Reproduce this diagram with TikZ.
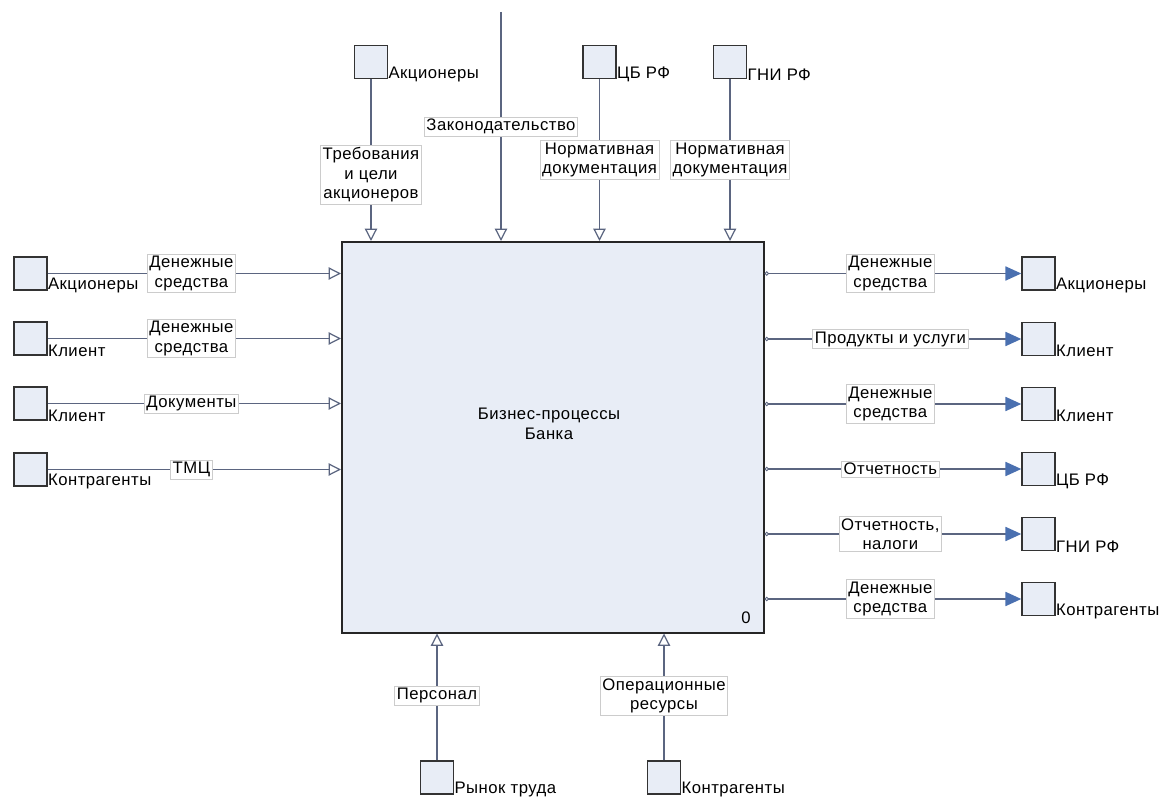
\documentclass[tikz,border=0pt]{standalone}
\usepackage{fontspec}
\setmainfont[LetterSpace=3]{Liberation Sans}
\usetikzlibrary{arrows.meta}
\definecolor{boxfill}{HTML}{E8EDF6}
\definecolor{linec}{HTML}{5B6580}
\definecolor{arrowc}{HTML}{4A70B0}
\begin{document}
\begin{tikzpicture}[x=0.02cm,y=-0.02cm,
  font=\fontsize{9.5}{11}\selectfont,
  ext/.style={draw=black!80, fill=boxfill, minimum size=0.66cm, inner sep=0pt, line width=0.8pt},
  mainbox/.style={draw=black!85, fill=boxfill, minimum width=8.44cm, minimum height=7.82cm, inner sep=0pt, line width=0.9pt},
  lbl/.style={draw=black!20, fill=white, inner sep=1.2pt, align=center, line width=0.4pt},
  ename/.style={anchor=west, inner sep=0pt, yshift=2.8pt},
  flow/.style={draw=linec, line width=0.9pt},
  inarr/.style={flow, -{Triangle[open, length=7pt, width=7pt, line width=0.7pt]}},
  outarr/.style={flow, {Circle[open, length=2.5pt, width=2.5pt, line width=0.5pt]}-{Triangle[length=9pt, width=8pt, color=arrowc, fill=arrowc]}}
]
\useasboundingbox (0,0) rectangle (1164,800);

% main function box
\node[mainbox, anchor=north west] (main) at (341,241) {};
\node[align=center] (maintext) at (549,424) {Бизнес-процессы\\Банка};
\node (num) at (746,618) {0};

% left inputs
\node[ext] (la) at (30.5,273.5) {};
\node[ext] (lk1) at (30.5,338.5) {};
\node[ext] (lk2) at (30.5,403.5) {};
\node[ext] (lc) at (30.5,469.5) {};
\node[ename] (lat) at (la.south east) {Акционеры};
\node[ename] (lk1t) at (lk1.south east) {Клиент};
\node[ename] (lk2t) at (lk2.south east) {Клиент};
\node[ename] (lct) at (lc.south east) {Контрагенты};
\draw[inarr] (la.east) -- node[lbl, pos=0.49] (l1) {Денежные\\средства} (la.east -| main.west);
\draw[inarr] (lk1.east) -- node[lbl, pos=0.49] (l2) {Денежные\\средства} (lk1.east -| main.west);
\draw[inarr] (lk2.east) -- node[lbl, pos=0.49] (l3) {Документы} (lk2.east -| main.west);
\draw[inarr] (lc.east) -- node[lbl, pos=0.49] (l4) {ТМЦ} (lc.east -| main.west);

% right outputs
\node[ext] (ra) at (1038.5,273.5) {};
\node[ext] (rk1) at (1038.5,339) {};
\node[ext] (rk2) at (1038.5,404) {};
\node[ext] (rcb) at (1038.5,469) {};
\node[ext] (rgni) at (1038.5,534) {};
\node[ext] (rc) at (1038.5,599) {};
\node[ename] (rat) at (ra.south east) {Акционеры};
\node[ename] (rk1t) at (rk1.south east) {Клиент};
\node[ename] (rk2t) at (rk2.south east) {Клиент};
\node[ename] (rcbt) at (rcb.south east) {ЦБ РФ};
\node[ename] (rgnit) at (rgni.south east) {ГНИ РФ};
\node[ename] (rct) at (rc.south east) {Контрагенты};
\draw[outarr] (ra.west -| main.east) -- node[lbl, pos=0.49] (r1) {Денежные\\средства} (ra.west);
\draw[outarr] (rk1.west -| main.east) -- node[lbl, pos=0.49] (r2) {Продукты и услуги} (rk1.west);
\draw[outarr] (rk2.west -| main.east) -- node[lbl, pos=0.49] (r3) {Денежные\\средства} (rk2.west);
\draw[outarr] (rcb.west -| main.east) -- node[lbl, pos=0.49] (r4) {Отчетность} (rcb.west);
\draw[outarr] (rgni.west -| main.east) -- node[lbl, pos=0.49] (r5) {Отчетность,\\налоги} (rgni.west);
\draw[outarr] (rc.west -| main.east) -- node[lbl, pos=0.49] (r6) {Денежные\\средства} (rc.west);

% top controls
\node[ext] (ta) at (371,62) {};
\node[ext] (tcb) at (599.5,62) {};
\node[ext] (tgni) at (730,62) {};
\node[ename] (tat) at (ta.south east) {Акционеры};
\node[ename] (tcbt) at (tcb.south east) {ЦБ РФ};
\node[ename] (tgnit) at (tgni.south east) {ГНИ РФ};
\coordinate (law) at (501,12);
\draw[inarr] (ta.south) -- node[lbl, pos=0.59] (t1) {Требования\\и цели\\акционеров} (ta.south |- main.north);
\draw[inarr] (law) -- node[lbl, pos=0.5] (t2) {Законодательство} (law |- main.north);
\draw[inarr] (tcb.south) -- node[lbl, pos=0.5] (t3) {Нормативная\\документация} (tcb.south |- main.north);
\draw[inarr] (tgni.south) -- node[lbl, pos=0.5] (t4) {Нормативная\\документация} (tgni.south |- main.north);

% bottom mechanisms
\node[ext] (br) at (437,777.5) {};
\node[ext] (bc) at (664,777.5) {};
\node[ename] (brt) at (br.south east) {Рынок труда};
\node[ename] (bct) at (bc.south east) {Контрагенты};
\draw[inarr] (br.north) -- node[lbl, pos=0.51] (b1) {Персонал} (br.north |- main.south);
\draw[inarr] (bc.north) -- node[lbl, pos=0.51] (b2) {Операционные\\ресурсы} (bc.north |- main.south);
\end{tikzpicture}
\end{document}
